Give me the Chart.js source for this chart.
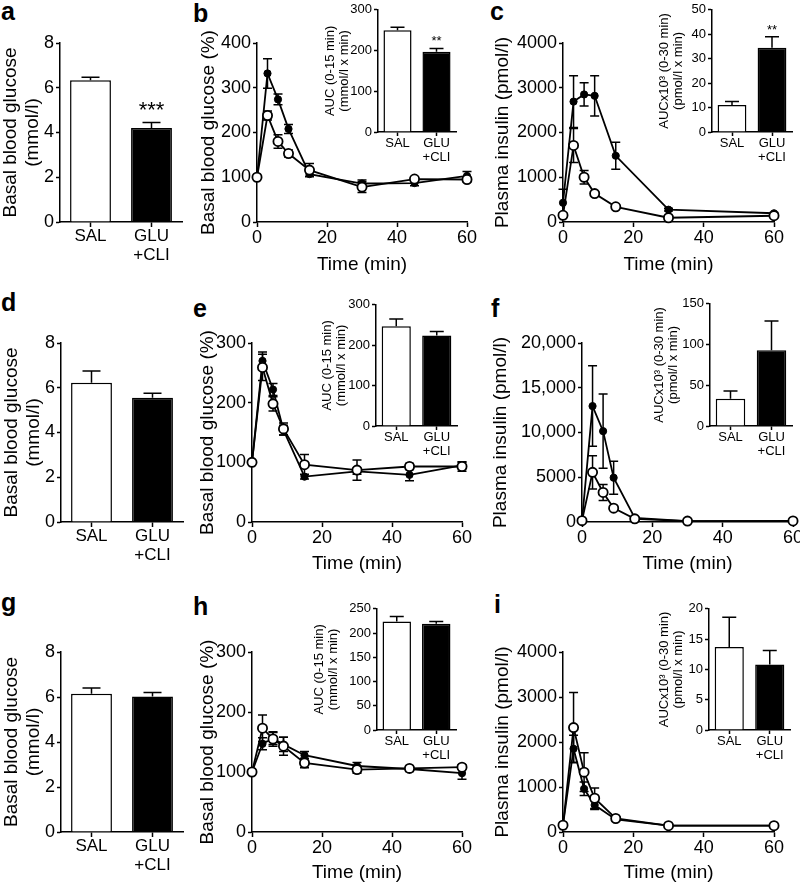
<!DOCTYPE html>
<html>
<head>
<meta charset="utf-8">
<script src="https://cdn.jsdelivr.net/npm/chart.js@4.4.1/dist/chart.umd.min.js"></script>
<style>
  body { margin: 0; background: #fff; }
  #fig { position: relative; width: 800px; height: 884px; overflow: hidden; background: #fff; }
  #fig canvas { position: absolute; }
  .tag { position: absolute; font: bold 25px "Liberation Sans", Arial, sans-serif; line-height: 1; color: #000; }
</style>
</head>
<body>
<div id="fig">
  <div class="tag" style="left:1px;top:-1px">a</div>
  <div class="tag" style="left:193px;top:1px">b</div>
  <div class="tag" style="left:490px;top:-1px">c</div>
  <div class="tag" style="left:1px;top:290px">d</div>
  <div class="tag" style="left:193px;top:296px">e</div>
  <div class="tag" style="left:491px;top:296px">f</div>
  <div class="tag" style="left:1px;top:590px">g</div>
  <div class="tag" style="left:193px;top:594px">h</div>
  <div class="tag" style="left:494px;top:592px">i</div>
</div>
<script>
// ---- data ----
const groups = ['SAL', ['GLU', '+CLI']];
const timesGlc = [0, 3, 6, 9, 15, 30, 45, 60];
const timesIns = [0, 3, 6, 9, 15, 30, 60];

// basal blood glucose (mmol/l)
const basalA = [6.33, 4.2];
const basalAErr = [0.14, 0.25];
const basalASig = ['', '***'];
const basalD = [6.22, 5.55];
const basalDErr = [0.53, 0.2];
const basalG = [6.15, 6.02];
const basalGErr = [0.25, 0.18];

// b: glucose (%)
const glcBSal = [100, 238, 180, 153, 116, 78, 96, 95];
const glcBSalErr = [0, 10, 15, 8, 15, 12, 5, 5];
const glcBCli = [100, 332, 274, 208, 107, 86, 87, 103];
const glcBCliErr = [0, 33, 12, 10, 5, 8, 6, 10];
const aucB = [250, 197];
const aucBErr = [7, 8];
const aucBSig = ['', '**'];

// c: insulin (pmol/l)
const insCSal = [150, 1710, 1000, 635, 340, 95, 140];
const insCSalErr = [50, 380, 150, 40, 30, 20, 20];
const insCCli = [430, 2690, 2850, 2820, 1480, 275, 195];
const insCCliErr = [300, 580, 260, 450, 300, 30, 20];
const aucC = [11, 34.5];
const aucCErr = [1.5, 4.5];
const aucCSig = ['', '**'];

// e: glucose (%)
const glcESal = [100, 259, 198, 156, 96, 87, 93, 93];
const glcESalErr = [0, 22, 12, 10, 17, 17, 5, 8];
const glcECli = [100, 270, 222, 154, 76, 85, 79, 95];
const glcECliErr = [0, 15, 10, 8, 4, 5, 10, 5];
const aucE = [247, 224];
const aucEErr = [18, 10];

// f: insulin (pmol/l)
const insFSal = [150, 5550, 3300, 1550, 350, 100, 120];
const insFSalErr = [0, 1850, 900, 200, 100, 0, 0];
const insFCli = [150, 12950, 10150, 4950, 450, 100, 100];
const insFCliErr = [0, 4500, 4150, 1850, 150, 0, 0];
const aucF = [33.5, 93];
const aucFErr = [9.5, 36];

// h: glucose (%)
const glcHSal = [100, 173, 155, 143, 115, 104, 106, 108];
const glcHSalErr = [0, 22, 12, 15, 8, 6, 4, 4];
const glcHCli = [100, 147, 156, 146, 128, 110, 105, 98];
const glcHCliErr = [0, 10, 10, 12, 6, 6, 4, 10];
const aucH = [224, 219];
const aucHErr = [10, 5];

// i: insulin (pmol/l)
const insISal = [150, 2320, 1330, 750, 300, 140, 140];
const insISalErr = [0, 780, 430, 230, 40, 20, 20];
const insICli = [150, 1850, 960, 600, 280, 140, 140];
const insICliErr = [0, 300, 150, 100, 30, 20, 20];
const aucI = [13.7, 10.8];
const aucIErr = [4.9, 2.3];

// ---- drawing ----
const FONT = '"Liberation Sans", Arial, Helvetica, sans-serif';
const fig = document.getElementById('fig');

// error bars + significance stars, drawn from the dataset values through the y scale
const errorBars = {
  id: 'errorBars',
  beforeDatasetsDraw(chart, args, o) { if (!o.up) drawErrors(chart, o); },
  afterDatasetsDraw(chart, args, o) { if (o.up) drawErrors(chart, o); }
};
function drawErrors(chart, o) {
  const ctx = chart.ctx, ys = chart.scales.y;
  ctx.save();
  ctx.strokeStyle = '#000';
  ctx.fillStyle = '#000';
  ctx.lineWidth = 1.5;
  chart.data.datasets.forEach((ds, di) => {
    if (!ds.err) return;
    chart.getDatasetMeta(di).data.forEach((el, i) => {
      const raw = ds.data[i];
      const v = typeof raw === 'object' ? raw.y : raw;
      const e = ds.err[i];
      const yTop = ys.getPixelForValue(v + e);
      if (e > 0) {
        const yBot = ys.getPixelForValue(o.up ? v : Math.max(v - e, 0));
        ctx.beginPath();
        ctx.moveTo(el.x, yBot);
        ctx.lineTo(el.x, yTop);
        ctx.moveTo(el.x - o.cap / 2, yTop);
        ctx.lineTo(el.x + o.cap / 2, yTop);
        if (!o.up) {
          ctx.moveTo(el.x - o.cap / 2, yBot);
          ctx.lineTo(el.x + o.cap / 2, yBot);
        }
        ctx.stroke();
      }
      if (ds.stars && ds.stars[i]) {
        ctx.font = o.starSize + 'px ' + FONT;
        ctx.textAlign = 'center';
        ctx.textBaseline = 'alphabetic';
        ctx.fillText(ds.stars[i], el.x, yTop - o.starGap);
      }
    });
  });
  ctx.restore();
}
Chart.register(errorBars);

// canvas placed so that the plot area lands on the given page box
function place(g) {
  const left = Math.round(g.tx - g.lh / 2);
  const top = Math.round(g.top - g.padT);
  const right = Math.round(g.right + g.padR);
  const bottom = Math.round(g.edge);
  const cv = document.createElement('canvas');
  cv.width = right - left;
  cv.height = bottom - top;
  cv.style.left = left + 'px';
  cv.style.top = top + 'px';
  cv.style.width = cv.width + 'px';
  cv.style.height = cv.height + 'px';
  fig.appendChild(cv);
  return { cv, W: g.ax - left, H: bottom - g.bottom, padT: g.top - top, padR: right - g.right };
}

const ink = { drawOnChartArea: false, drawTicks: true, tickWidth: 1.5, tickColor: '#000' };
const edge = { display: true, color: '#000', width: 1.5 };
const plain = v => String(v);
const thousands = v => (v >= 10000 ? v.toLocaleString('en-US') : String(v));

function yAxis(o, p) {
  return {
    type: 'linear', min: 0, max: o.max,
    ticks: { stepSize: o.step, color: '#000', font: { family: FONT, size: o.tick }, padding: 2, callback: o.fmt || plain },
    grid: Object.assign({ tickLength: 4 }, ink),
    border: edge,
    title: { display: true, text: o.title, color: '#000', font: { family: FONT, size: o.tsize, lineHeight: o.tlh }, padding: 0 },
    afterFit: s => { s.width = p.W; }
  };
}

function baseOptions(p, eb) {
  return {
    responsive: false, animation: false, events: [],
    layout: { padding: { top: p.padT, right: p.padR, left: 0, bottom: 0 } },
    plugins: { legend: { display: false }, tooltip: { enabled: false }, errorBars: eb }
  };
}

function barChart(g, vals, errs, stars, y) {
  const p = place(g);
  const opts = baseOptions(p, { up: true, cap: g.cap, starSize: g.starSize, starGap: g.starGap });
  opts.scales = {
    x: {
      type: 'category', offset: true,
      ticks: { color: '#000', font: { family: FONT, size: g.cat, lineHeight: 1.1 }, padding: 0, maxRotation: 0, autoSkip: false },
      grid: Object.assign({ offset: false, tickLength: g.tl }, ink),
      border: edge,
      afterFit: s => { s.height = p.H; }
    },
    y: yAxis(y, p)
  };
  new Chart(p.cv, {
    type: 'bar',
    data: {
      labels: groups,
      datasets: [{
        data: vals, err: errs, stars: stars,
        backgroundColor: ['#fff', '#000'], borderColor: '#000', borderWidth: 1.5,
        barPercentage: g.bar, categoryPercentage: 1
      }]
    },
    options: opts
  });
}

function lineChart(g, times, sal, salErr, cli, cliErr, y) {
  const p = place(g);
  const opts = baseOptions(p, { up: false, cap: 9 });
  opts.scales = {
    x: {
      type: 'linear', min: 0, max: 60,
      ticks: { stepSize: 20, color: '#000', font: { family: FONT, size: 18 }, padding: 0, maxRotation: 0 },
      grid: Object.assign({ tickLength: 5 }, ink),
      border: edge,
      title: { display: true, text: 'Time (min)', color: '#000', font: { family: FONT, size: 19 }, padding: 0 },
      afterFit: s => { s.height = p.H; }
    },
    y: yAxis(y, p)
  };
  new Chart(p.cv, {
    type: 'line',
    data: {
      datasets: [
        {
          label: 'SAL', data: times.map((t, i) => ({ x: t, y: sal[i] })), err: salErr,
          borderColor: '#000', borderWidth: 1.8, pointRadius: 4.6, pointBackgroundColor: '#fff',
          pointBorderColor: '#000', pointBorderWidth: 1.8, tension: 0, clip: false
        },
        {
          label: 'GLU+CLI', data: times.map((t, i) => ({ x: t, y: cli[i] })), err: cliErr,
          borderColor: '#000', borderWidth: 1.8, pointRadius: 3.6, pointBackgroundColor: '#000',
          pointBorderColor: '#000', pointBorderWidth: 1, tension: 0, clip: false
        }
      ]
    },
    options: opts
  });
}

const mainBar = { lh: 22.8, padT: 14, padR: 6, cat: 17, tl: 5, bar: 0.67, cap: 18, starSize: 22, starGap: 5 };
const mainLine = { lh: 22.8, padT: 14, padR: 14 };
const inset = { lh: 14.3, padT: 8, padR: 6, cat: 13, tl: 4, bar: 0.72, cap: 14, starSize: 13, starGap: 3 };

const yBasal = { max: 8, step: 2, tick: 18, title: ['Basal blood glucose', '(mmol/l)'], tsize: 19, tlh: 1.2 };
const yGlc = (max) => ({ max, step: 100, tick: 18, title: 'Basal blood glucose (%)', tsize: 19, tlh: 1.2 });
const yIns = (max, step, fmt) => ({ max, step, tick: 18, title: 'Plasma insulin (pmol/l)', tsize: 19, tlh: 1.2, fmt });
const yAucGlc = (max, step) => ({ max, step, tick: 13, title: ['AUC (0-15 min)', '(mmol/l x min)'], tsize: 13, tlh: 1.1 });
const yAucIns = (max, step) => ({ max, step, tick: 13, title: ['AUCx10\u00B3 (0-30 min)', '(pmol/l x min)'], tsize: 13, tlh: 1.1 });

// row 1
barChart(Object.assign({ ax: 60, right: 182, top: 43, bottom: 222, tx: 10, edge: 267 }, mainBar), basalA, basalAErr, basalASig, yBasal);
lineChart(Object.assign({ ax: 257, right: 467, top: 43, bottom: 222, tx: 208, edge: 276.4 }, mainLine), timesGlc, glcBSal, glcBSalErr, glcBCli, glcBCliErr, yGlc(400));
lineChart(Object.assign({ ax: 563, right: 774, top: 43, bottom: 222, tx: 502, edge: 276.4 }, mainLine), timesIns, insCSal, insCSalErr, insCCli, insCCliErr, yIns(4000, 1000));
barChart(Object.assign({ ax: 378, right: 456, top: 8, bottom: 132, tx: 330, edge: 168 }, inset), aucB, aucBErr, aucBSig, yAucGlc(300, 100));
barChart(Object.assign({ ax: 712, right: 792, top: 8, bottom: 132, tx: 664, edge: 168 }, inset), aucC, aucCErr, aucCSig, yAucIns(50, 10));

// row 2
barChart(Object.assign({ ax: 61, right: 183, top: 343, bottom: 522, tx: 11, edge: 567 }, mainBar), basalD, basalDErr, null, yBasal);
lineChart(Object.assign({ ax: 252, right: 462, top: 343, bottom: 522, tx: 207, edge: 575.4 }, mainLine), timesGlc, glcESal, glcESalErr, glcECli, glcECliErr, yGlc(300));
lineChart(Object.assign({ ax: 582, right: 793, top: 343, bottom: 522, tx: 500, edge: 575.4 }, mainLine), timesIns, insFSal, insFSalErr, insFCli, insFCliErr, yIns(20000, 5000, thousands));
barChart(Object.assign({ ax: 376, right: 457, top: 303, bottom: 426, tx: 327, edge: 462 }, inset), aucE, aucEErr, null, yAucGlc(300, 100));
barChart(Object.assign({ ax: 710, right: 792, top: 302, bottom: 426, tx: 659, edge: 462 }, inset), aucF, aucFErr, null, yAucIns(150, 50));

// row 3
barChart(Object.assign({ ax: 61, right: 183, top: 652, bottom: 832, tx: 11, edge: 877 }, mainBar), basalG, basalGErr, null, yBasal);
lineChart(Object.assign({ ax: 252, right: 462, top: 652, bottom: 832, tx: 207, edge: 884.4 }, mainLine), timesGlc, glcHSal, glcHSalErr, glcHCli, glcHCliErr, yGlc(300));
lineChart(Object.assign({ ax: 563, right: 774, top: 652, bottom: 832, tx: 502, edge: 884.4 }, mainLine), timesIns, insISal, insISalErr, insICli, insICliErr, yIns(4000, 1000));
barChart(Object.assign({ ax: 377, right: 456, top: 607, bottom: 730, tx: 319, edge: 766 }, inset), aucH, aucHErr, null, yAucGlc(250, 50));
barChart(Object.assign({ ax: 709, right: 790, top: 607, bottom: 730, tx: 664, edge: 766 }, inset), aucI, aucIErr, null, yAucIns(20, 5));
</script>
</body>
</html>
